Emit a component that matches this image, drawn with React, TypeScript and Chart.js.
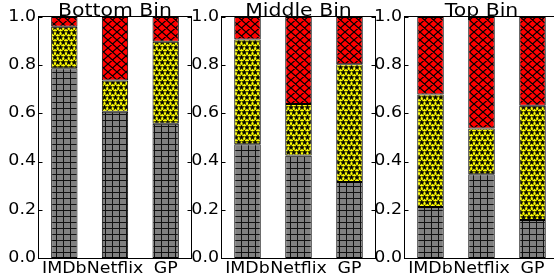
import React, { useEffect, useRef } from 'react';
import { Chart, registerables } from 'chart.js';
Chart.register(...registerables);

const categories = ['IMDb', 'Netflix', 'GP'];
const binTitles = ['Bottom Bin', 'Middle Bin', 'Top Bin'];
const yTickValues = [0, 0.2, 0.4, 0.6, 0.8, 1.0];

// segment heights (fractions), bottom (gray) / middle (yellow) / top (red)
const bottomBinGray = [0.787, 0.607, 0.557];
const bottomBinYellow = [0.173, 0.130, 0.340];
const bottomBinRed = [0.040, 0.263, 0.103];

const middleBinGray = [0.472, 0.425, 0.315];
const middleBinYellow = [0.435, 0.214, 0.489];
const middleBinRed = [0.093, 0.361, 0.196];

const topBinGray = [0.212, 0.347, 0.158];
const topBinYellow = [0.466, 0.190, 0.474];
const topBinRed = [0.322, 0.463, 0.368];

const binSeries = [
  [bottomBinGray, bottomBinYellow, bottomBinRed],
  [middleBinGray, middleBinYellow, middleBinRed],
  [topBinGray, topBinYellow, topBinRed],
];

// layout (not data)
const layouts = [
  { canvasLeft: 0, axisWidth: 39, plotWidth: 152 },
  { canvasLeft: 192, axisWidth: 30, plotWidth: 153 },
  { canvasLeft: 375, axisWidth: 30, plotWidth: 153 },
];
const HEIGHT = 273;
const TOP = 17;
const XAXIS_H = 15;
const FONT = '"DejaVu Sans"';
const STRETCH = 1.16;

function makeGrid(): CanvasPattern {
  const c = document.createElement('canvas');
  c.width = 7; c.height = 6;
  const g = c.getContext('2d')!;
  g.fillStyle = '#808080';
  g.fillRect(0, 0, 7, 6);
  g.fillStyle = '#111';
  g.fillRect(0, 0, 7, 1);
  g.fillRect(0, 0, 1, 6);
  return g.createPattern(c, 'repeat')!;
}

function drawStar(g: CanvasRenderingContext2D, cx: number, cy: number, R: number, r: number) {
  g.beginPath();
  for (let i = 0; i < 10; i++) {
    const rad = i % 2 === 0 ? R : r;
    const a = -Math.PI / 2 + (i * Math.PI) / 5;
    const x = cx + rad * Math.cos(a);
    const y = cy + rad * Math.sin(a);
    if (i === 0) g.moveTo(x, y); else g.lineTo(x, y);
  }
  g.closePath();
  g.fill();
  g.stroke();
}

function makeStars(): CanvasPattern {
  const c = document.createElement('canvas');
  c.width = 11; c.height = 10;
  const g = c.getContext('2d')!;
  g.fillStyle = '#ffff00';
  g.fillRect(0, 0, 11, 10);
  g.fillStyle = '#000';
  g.strokeStyle = '#000';
  g.lineWidth = 0.6;
  const pts = [[2.75, 2.5], [8.25, 2.5], [0, 7.5], [5.5, 7.5], [11, 7.5], [2.75, 12.5], [8.25, 12.5], [0, -2.5], [5.5, -2.5], [11, -2.5]];
  pts.forEach(([x, y]) => drawStar(g, x, y, 2.6, 1.1));
  return g.createPattern(c, 'repeat')!;
}

function makeCross(): CanvasPattern {
  const c = document.createElement('canvas');
  const w = 9, h = 8;
  c.width = w; c.height = h;
  const g = c.getContext('2d')!;
  g.fillStyle = '#ff0000';
  g.fillRect(0, 0, w, h);
  g.strokeStyle = '#000';
  g.lineWidth = 1.2;
  g.beginPath();
  for (let k = -1; k <= 1; k++) {
    g.moveTo(-w + k * w, -h); g.lineTo(2 * w + k * w, 2 * h);
    g.moveTo(-w + k * w, 2 * h); g.lineTo(2 * w + k * w, -h);
  }
  g.stroke();
  return g.createPattern(c, 'repeat')!;
}

function stretchedText(ctx: CanvasRenderingContext2D, text: string, x: number, y: number, align: CanvasTextAlign, baseline: CanvasTextBaseline, font: string, sx: number) {
  ctx.save();
  ctx.translate(x, y);
  ctx.scale(sx, 1);
  ctx.font = font;
  ctx.textAlign = align;
  ctx.textBaseline = baseline;
  ctx.fillStyle = '#000';
  ctx.fillText(text, 0, 0);
  ctx.restore();
}

function Panel({ idx }: { idx: number }) {
  const ref = useRef<HTMLCanvasElement>(null);
  const lay = layouts[idx];
  const width = lay.axisWidth + lay.plotWidth + 1;
  useEffect(() => {
    const canvas = ref.current!;
    const [gray, yellow, red] = binSeries[idx];
    const title = binTitles[idx];
    const framePlugin = {
      id: 'frame' + idx,
      afterDatasetsDraw(chart: any) {
        const { ctx, chartArea } = chart;
        const { left, right, top, bottom } = chartArea;
        ctx.save();
        ctx.strokeStyle = '#000';
        ctx.lineWidth = 1;
        const l = Math.round(left) - 0.5, r = Math.round(right) + 0.5;
        const t = Math.round(top) - 0.5, b = Math.round(bottom) + 0.5;
        ctx.strokeRect(l, t, r - l, b - t);
        const ys = chart.scales.y;
        ctx.beginPath();
        yTickValues.forEach((v) => {
          const y = Math.round(ys.getPixelForValue(v)) + 0.5;
          ctx.moveTo(l, y); ctx.lineTo(l + 4, y);
          ctx.moveTo(r, y); ctx.lineTo(r - 4, y);
        });
        ctx.stroke();
        ctx.restore();
        // y tick labels
        yTickValues.forEach((v) => {
          stretchedText(ctx, v.toFixed(1), l - 2.5, ys.getPixelForValue(v), 'right', 'middle', `15px ${FONT}`, STRETCH);
        });
        // x tick labels
        const xs = chart.scales.x;
        categories.forEach((c, i) => {
          stretchedText(ctx, c, xs.getPixelForValue(i), 273, 'center', 'alphabetic', `15px ${FONT}`, STRETCH);
        });
        // title
        stretchedText(ctx, title, (left + right) / 2, 15.6, 'center', 'alphabetic', `17px ${FONT}`, 1.2);
      },
    };
    const common = { borderColor: '#000', borderWidth: 1, borderSkipped: false, barPercentage: 0.52, categoryPercentage: 1 };
    const chart = new Chart(canvas, {
      type: 'bar',
      data: {
        labels: categories,
        datasets: [
          { data: gray, backgroundColor: makeGrid(), ...common },
          { data: yellow, backgroundColor: makeStars(), ...common },
          { data: red, backgroundColor: makeCross(), ...common },
        ] as any,
      },
      options: {
        responsive: false,
        animation: false,
        devicePixelRatio: 1,
        layout: { padding: { top: TOP, left: 0, right: 1, bottom: 0 } },
        plugins: { legend: { display: false }, tooltip: { enabled: false }, title: { display: false } },
        scales: {
          x: {
            stacked: true,
            grid: { display: false, drawTicks: false },
            border: { display: false },
            ticks: { display: false },
            afterFit: (s: any) => { s.height = XAXIS_H; },
          },
          y: {
            stacked: true,
            min: 0,
            max: 1,
            grid: { display: false, drawTicks: false },
            border: { display: false },
            ticks: { display: false, stepSize: 0.2 },
            afterFit: (s: any) => { s.width = lay.axisWidth; },
          },
        },
      } as any,
      plugins: [framePlugin],
    });
    return () => chart.destroy();
  }, [idx]);
  return (
    <canvas
      ref={ref}
      width={width}
      height={HEIGHT}
      style={{ position: 'absolute', left: lay.canvasLeft, top: 0, width, height: HEIGHT }}
    />
  );
}

export default function App() {
  return (
    <div style={{ position: 'fixed', left: 0, top: 0, width: 554, height: HEIGHT, overflow: 'hidden', background: '#fff' }}>
      {[0, 1, 2].map((i) => <Panel key={i} idx={i} />)}
    </div>
  );
}
